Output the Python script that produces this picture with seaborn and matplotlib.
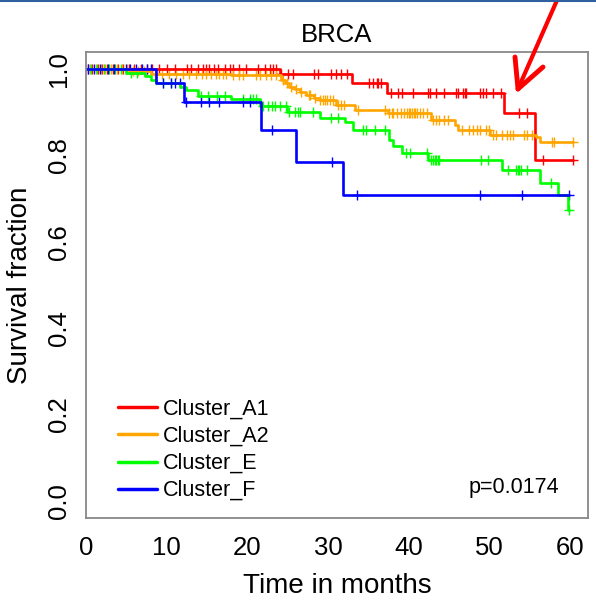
import numpy as np
import pandas as pd
import matplotlib
matplotlib.use("Agg")
import matplotlib.pyplot as plt
from matplotlib.lines import Line2D
import seaborn as sns

# ---------------- data ----------------
clusters = ["Cluster_A1", "Cluster_A2", "Cluster_E", "Cluster_F"]
colors = ["#ff0000", "#ffa500", "#00ff00", "#0000ff"]

a1_drop_t = [24.0, 32.9, 37.3, 51.8, 55.6]
a1_drop_s = [0.988, 0.967, 0.945, 0.899, 0.790]
a1_end = 60.3
a1_cens = [0.3, 0.8, 1.5, 2.0, 2.6, 3.3, 4.0, 4.6, 5.3, 6.0, 6.8, 7.5, 8.2,
           9.0, 10.0, 11.0, 12.5, 13.0, 13.9, 14.5, 14.9, 15.3, 15.8, 16.4,
           17.2, 17.9, 18.2, 18.9, 19.8, 21.3, 22.2, 22.8, 23.2, 23.6,
           24.2, 25.0, 25.7, 28.3, 28.7, 30.4, 31.0, 31.6, 32.4,
           35.1, 35.6, 36.0, 36.2, 36.6,
           37.8, 38.7, 39.1, 40.5, 42.4, 42.6, 43.4, 44.4, 45.9, 46.1, 46.7,
           46.9, 47.1, 48.8, 49.2, 49.6, 50.4, 51.4,
           53.7, 54.7, 56.6, 60.3]

a2_drop_t = [5.5, 8.0, 18.0, 24.2, 24.6, 25.2, 25.9, 26.5, 27.3, 28.3, 29.0,
             31.0, 33.3, 37.4, 42.8, 45.7, 46.1, 50.0, 55.8, 56.2]
a2_drop_s = [0.995, 0.990, 0.986, 0.975, 0.967, 0.959, 0.955, 0.947, 0.940,
             0.934, 0.928, 0.917, 0.905, 0.898, 0.882, 0.871, 0.859, 0.847,
             0.843, 0.832]
a2_end = 60.3
a2_cens = [0.5, 1.2, 1.9, 2.4, 3.1, 3.8, 4.4, 5.1, 5.8, 6.5, 7.2,
           8.6, 9.4, 10.3, 11.2, 12.0, 12.8, 13.6, 14.4, 14.9, 15.5, 16.1,
           16.5, 17.0, 17.4, 18.2, 19.0, 19.5, 21.1, 21.5, 22.3, 22.9, 23.5,
           24.4, 24.9, 25.4, 26.0, 26.6, 27.6, 27.8, 28.4, 29.0, 29.4, 29.6,
           29.8, 30.2, 30.6, 31.2, 31.6, 32.0, 33.7, 37.1, 37.5,
           37.9, 38.1, 38.5, 39.0, 39.4, 39.8, 40.0, 40.2, 40.4, 40.6, 40.8,
           41.0, 41.4, 41.8, 42.2, 43.0, 43.4, 43.8, 44.4, 44.9,
           46.6, 47.4, 48.0, 48.4, 48.8, 49.6, 49.9,
           50.4, 50.8, 51.6, 52.2, 52.5, 52.9, 54.3, 54.7, 55.3,
           57.8, 58.0, 60.3]

e_drop_t = [5.0, 7.3, 8.0, 8.7, 11.6, 12.4, 13.9, 18.0, 21.5, 24.9, 29.0,
            32.1, 33.1, 37.6, 38.0, 39.1, 42.4, 51.6, 56.2, 58.5, 59.7]
e_drop_s = [0.992, 0.984, 0.975, 0.967, 0.959, 0.951, 0.938, 0.930, 0.915,
            0.901, 0.888, 0.878, 0.859, 0.836, 0.822, 0.807, 0.790, 0.766,
            0.737, 0.709, 0.674]
e_end = 59.9
e_cens = [0.6, 1.4, 2.2, 2.9, 3.6, 4.3, 5.6, 6.3, 9.5, 10.5,
          14.3, 15.1, 16.2, 17.2, 19.5, 20.3, 20.7, 21.1,
          21.9, 22.6, 23.0, 23.4, 24.0, 24.8, 25.2, 25.9, 26.3, 26.5, 28.1,
          30.3, 31.2, 34.3, 34.7, 35.8, 37.0, 39.7, 40.1, 42.2,
          42.8, 43.0, 43.2, 43.4, 43.6, 43.8, 49.0, 49.8,
          52.3, 53.3, 53.5, 53.7, 53.9, 54.7, 57.6, 59.9]

f_drop_t = [8.7, 12.1, 21.7, 26.0, 31.8]
f_drop_s = [0.967, 0.923, 0.859, 0.786, 0.709]
f_end = 59.9
f_cens = [0.2, 1.0, 1.7, 2.7, 3.5, 4.9, 5.5, 6.2, 6.9, 7.6, 8.0,
          9.5, 10.5, 11.0, 11.6, 12.4, 14.2, 15.3, 16.5, 19.5, 20.3,
          23.0, 30.5, 33.6, 48.8, 54.0, 59.9]

p_text = "p=0.0174"
title = "BRCA"
xlabel = "Time in months"
ylabel = "Survival fraction"
xticks = [0, 10, 20, 30, 40, 50, 60]
yticks = [0.0, 0.2, 0.4, 0.6, 0.8, 1.0]

# ---------------- build tables ----------------
groups = {
    "Cluster_A1": (a1_drop_t, a1_drop_s, a1_end, a1_cens),
    "Cluster_A2": (a2_drop_t, a2_drop_s, a2_end, a2_cens),
    "Cluster_E": (e_drop_t, e_drop_s, e_end, e_cens),
    "Cluster_F": (f_drop_t, f_drop_s, f_end, f_cens),
}
step_rows, cens_rows = [], []
for name, (dt, ds, end, cens) in groups.items():
    times = [0.0] + list(dt) + [end]
    surv = [1.0] + list(ds) + [ds[-1]]
    for i, (t, s) in enumerate(zip(times, surv)):
        step_rows.append({"cluster": name, "time": t, "surv": s, "order": i})
    for c in cens:
        idx = np.searchsorted(np.array(dt), c, side="right")
        s = 1.0 if idx == 0 else ds[idx - 1]
        cens_rows.append({"cluster": name, "time": c, "surv": s})
steps = pd.DataFrame(step_rows)
cens_df = pd.DataFrame(cens_rows)

# ---------------- plot ----------------
sns.set_style("white")
plt.rcParams["font.family"] = ["Liberation Sans", "DejaVu Sans"]
plt.rcParams["text.color"] = "black"
plt.rcParams["axes.labelcolor"] = "black"
plt.rcParams["xtick.color"] = "black"
plt.rcParams["ytick.color"] = "black"

W, H = 596, 606
fig = plt.figure(figsize=(W / 100, H / 100), dpi=100)
ax = fig.add_axes([86 / W, 1 - 518 / H, (588 - 86) / W, (518 - 52) / H])

for name, col in zip(clusters, colors):
    sub = steps[steps.cluster == name]
    sns.lineplot(data=sub, x="time", y="surv", ax=ax, color=col,
                 estimator=None, sort=False, drawstyle="steps-post",
                 linewidth=1.9, legend=False)
    csub = cens_df[cens_df.cluster == name]
    sns.scatterplot(data=csub, x="time", y="surv", ax=ax, color=col,
                    marker="+", s=50, linewidth=1.0, legend=False)

ax.set_xlim(0, 62.2)
ax.set_ylim(-0.04, 1.04)
ax.set_xticks(xticks)
ax.set_yticks(yticks)
ax.set_xticklabels([str(v) for v in xticks])
ax.set_yticklabels([f"{v:.1f}" for v in yticks], rotation=90, va="center")
ax.tick_params(axis="both", direction="out", length=5, width=1,
               color="#555555", labelsize=18.5, labelcolor="black")
ax.tick_params(axis="x", pad=8)
ax.tick_params(axis="y", pad=6)
for sp in ax.spines.values():
    sp.set_color("#888888")
    sp.set_linewidth(1.3)

ax.set_xlabel(xlabel, fontsize=20, labelpad=9, color="black")
ax.set_ylabel(ylabel, fontsize=20, labelpad=10, color="black")
ax.set_title(title, fontsize=18.5, pad=7, color="black")

handles = [Line2D([0], [0], color=c, lw=2.5) for c in colors]
leg = fig.legend(handles, clusters, loc="upper left",
                 bbox_to_anchor=(118 / W, 1 - 399 / H),
                 bbox_transform=fig.transFigure, frameon=False, fontsize=15.5,
                 handlelength=1.8, handletextpad=0.3, labelspacing=0.28,
                 borderpad=0, borderaxespad=0)
for t in leg.get_texts():
    t.set_color("black")
fig.text(469 / W, 1 - 488 / H, p_text, fontsize=15.5, ha="left", va="center",
         color="black")

# annotation arrow (red) and top border
def fl(x0, y0, x1, y1, **kw):
    fig.add_artist(Line2D([x0 / W, x1 / W], [1 - y0 / H, 1 - y1 / H],
                          transform=fig.transFigure, **kw))

fl(558, -2, 518, 89, color="#ff0000", lw=3, solid_capstyle="round")
fl(515, 57, 518, 89, color="#ff0000", lw=3.5, solid_capstyle="round")
fl(518, 89, 543, 67, color="#ff0000", lw=3.5, solid_capstyle="round")
fl(0, 1, W, 1, color="#2f5f9f", lw=1.5)

fig.savefig("out.png", dpi=100)
